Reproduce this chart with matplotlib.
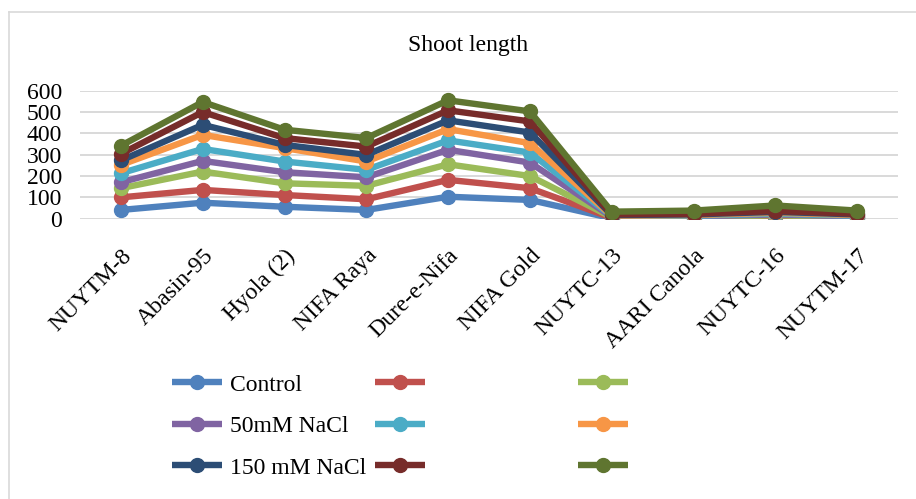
import numpy as np
import matplotlib
matplotlib.use("Agg")
import matplotlib.pyplot as plt
from matplotlib.lines import Line2D

plt.rcParams['font.family'] = ['Liberation Serif', 'DejaVu Serif']

varieties = ["NUYTM-8", "Abasin-95", "Hyola (2)", "NIFA Raya", "Dure-e-Nifa",
             "NIFA Gold", "NUYTC-13", "AARI Canola", "NUYTC-16", "NUYTM-17"]

# one list per series (stacked line chart, values are the per-series parts)
s1 = [41, 75, 56, 41, 103, 88, 2, 3, 8, 3]
s2 = [59, 60, 55, 50, 79, 55, 2, 2, 4, 2]
s3 = [43, 86, 55, 63, 73, 57, 3, 3, 4, 3]
s4 = [28, 50, 52, 40, 68, 63, 2, 3, 4, 3]
s5 = [42, 56, 50, 35, 44, 47, 3, 3, 4, 3]
s6 = [39, 66, 63, 39, 53, 44, 2, 3, 4, 3]
s7 = [21, 47, 15, 31, 41, 50, 3, 3, 4, 3]
s8 = [31, 60, 32, 39, 47, 52, 3, 3, 4, 3]
s9 = [38, 47, 39, 40, 47, 47, 13, 15, 26, 15]

series = [s1, s2, s3, s4, s5, s6, s7, s8, s9]
labels = ["Control", "", "", "50mM NaCl", "", "", "150 mM NaCl", "", ""]
colors = ["#4F81BD", "#C0504D", "#9BBB59", "#8064A2", "#4BACC6",
          "#F79646", "#2C4D75", "#772C2A", "#5F7530"]

W, H = 916, 499
fig = plt.figure(figsize=(W / 100, H / 100), dpi=100)

# chart border (only top and left edges are visible in the crop)
fig.add_artist(Line2D([9 / W, 9 / W], [0, 1 - 12 / H], color="#d9d9d9", lw=1.2))
fig.add_artist(Line2D([9 / W, 1], [1 - 12 / H, 1 - 12 / H], color="#d9d9d9", lw=1.2))

ax = fig.add_axes([80 / W, 1 - 218.7 / H, 818 / W, 128 / H])

x = np.arange(len(varieties))
stacked = np.cumsum(np.array(series), axis=0)
handles = []
for vals, lab, c in zip(stacked, labels, colors):
    h, = ax.plot(x, vals, color=c, lw=4.6, marker="o", markersize=10,
                 solid_capstyle="butt", solid_joinstyle="round", label=lab)
    handles.append(h)

ax.set_xlim(-0.5, len(varieties) - 0.5)
ax.set_ylim(0, 600)
ax.set_yticks(range(0, 601, 100))
ax.grid(axis="y", color="#d9d9d9", lw=1.4)
ax.set_axisbelow(True)
for sp in ax.spines.values():
    sp.set_visible(False)
ax.tick_params(axis="both", length=0, labelsize=17)
ax.tick_params(axis="y", pad=13)
ax.tick_params(axis="x", pad=19)
ax.set_xticks(x)
ax.set_xticklabels(varieties, rotation=45, ha="right", rotation_mode="anchor")

fig.text(468 / W, 1 - 46 / H, "Shoot length", ha="center", va="center", fontsize=17)

# legend laid out in three columns, row-major like the original
col_x = [172, 375, 578]
for ci in range(3):
    idx = [ci, ci + 3, ci + 6]
    fig.legend([handles[i] for i in idx], [labels[i] for i in idx],
               loc="upper left", bbox_to_anchor=(col_x[ci] / W, 1 - 374 / H),
               frameon=False, fontsize=17, borderpad=0, borderaxespad=0,
               handlelength=2.1, handletextpad=0.34, labelspacing=0.85)

fig.savefig("out.png", dpi=100)
